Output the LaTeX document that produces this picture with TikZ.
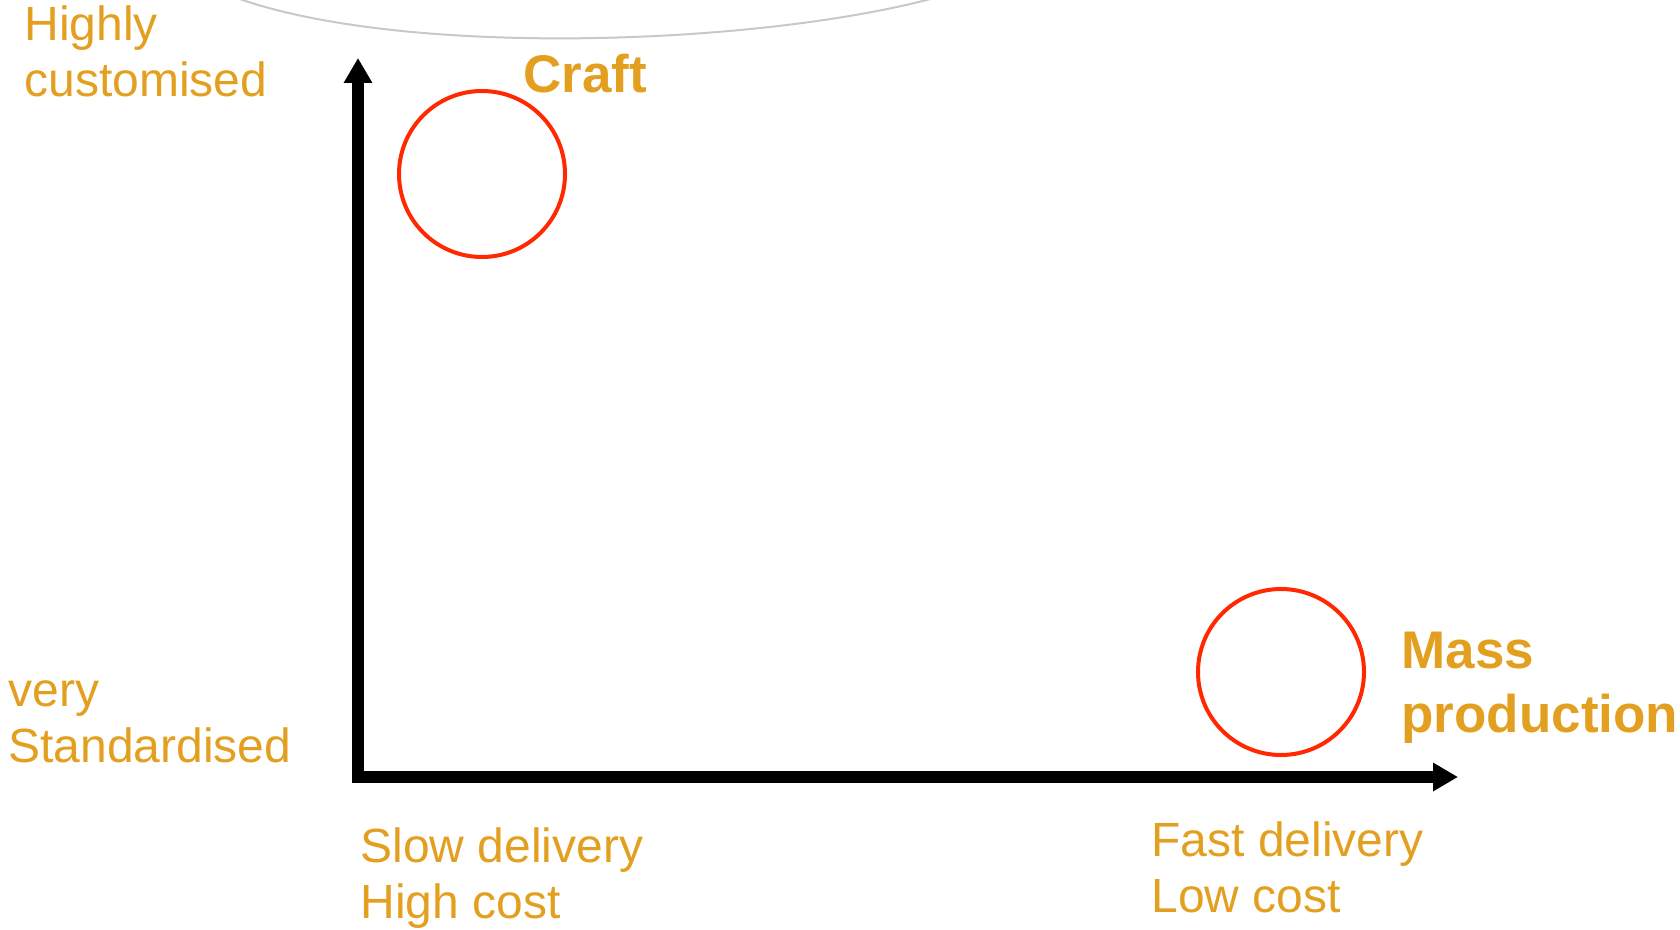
\documentclass[tikz,border=0pt]{standalone}
\usepackage{fontspec}
\setmainfont{Liberation Sans}
\usepackage{xcolor}
\usepackage{tikz}
\usetikzlibrary{arrows.meta, positioning}

\definecolor{labelgold}{RGB}{227,160,32}
\definecolor{ringred}{RGB}{255,40,0}
\definecolor{shadowgrey}{RGB}{200,200,200}

\begin{document}
\begin{tikzpicture}[
    x=0.5pt, y=-0.5pt,
    axislabel/.style={anchor=base west, inner sep=0pt, align=left, text=labelgold,
                font=\fontsize{24}{28}\selectfont},
    modelname/.style={anchor=base west, inner sep=0pt, align=left, text=labelgold,
                font=\fontsize{26.5}{32}\selectfont\bfseries},
    ring/.style={circle, draw=ringred, line width=2pt, minimum size=83pt, inner sep=0pt},
    axis/.style={line width=6pt, line join=miter,
                {Triangle[length=12.5pt,width=13.5pt]}-{Triangle[length=12.5pt,width=13.5pt]}}
    ]
    \useasboundingbox (0,0) rectangle (1680,930);
    \draw[shadowgrey, line width=1pt] (234,-3) .. controls (400,58) and (760,46) .. (938,-3);

    \coordinate (origin) at (358,777);
    \coordinate (ytop) at (358,58);
    \coordinate (xend) at (1458,777);
    \draw[axis] (ytop) -- (origin) -- (xend);

    \node[ring] (craftring) at (482,174) {};
    \node[ring] (massring) at (1281,672) {};

    % base anchor sits on the last line
    \node[modelname] (craft) at (523,93) {Craft};
    \node[modelname] (mass) at (1401,732) {Mass\\production};

    \node[axislabel] (custom) at (24,97) {Highly\\customised};
    \node[axislabel] (standard) at (8,762) {very\\Standardised};
    \node[axislabel] (slow) at (360,918) {Slow delivery\\High cost};
    \node[axislabel] (fast) at (1151,912) {Fast delivery\\Low cost};
  \end{tikzpicture}
\end{document}
